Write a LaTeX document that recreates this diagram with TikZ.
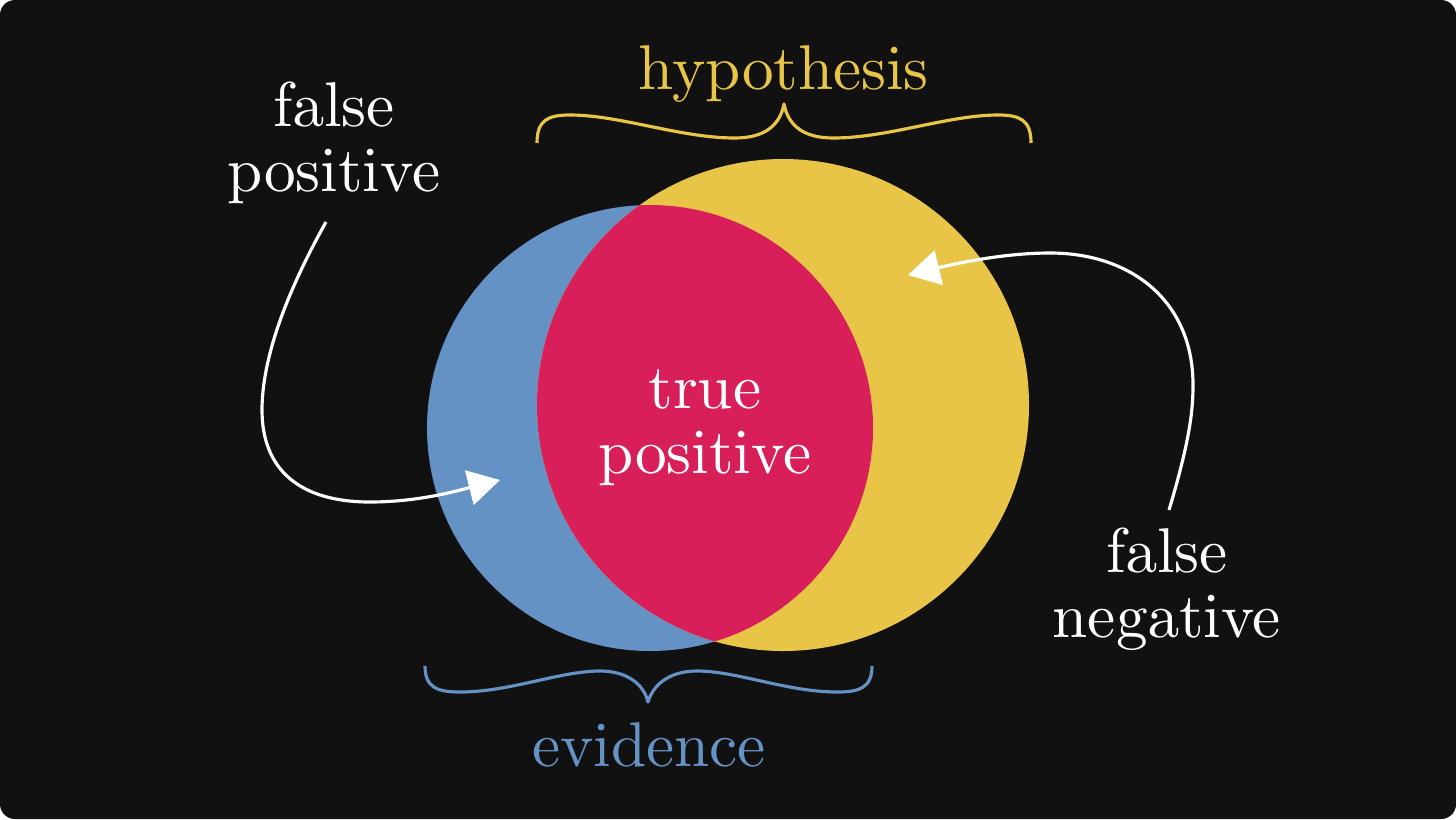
\documentclass[tikz,border=0pt]{standalone}
\usetikzlibrary{arrows.meta}
\definecolor{bgdark}{HTML}{111111}
\definecolor{evblue}{HTML}{6592C5}
\definecolor{hyyellow}{HTML}{E8C547}
\definecolor{tpred}{HTML}{D81F5A}
\font\vennfont=cmr10 at 36pt

\begin{document}
\begin{tikzpicture}[x=0.02cm,y=-0.02cm]
\tikzset{
  venntext/.style={text=white,font=\fontsize{36}{37}\selectfont\vennfont,align=center,inner sep=0pt},
  bracepath/.style={line width=1.8pt,line join=round},
  pointer/.style={draw=white,line width=1.8pt,-{Triangle[length=18pt,width=20pt]}}
}
\fill[white] (0,0) rectangle (1456,819);
\fill[bgdark,rounded corners=8.5pt] (0,0) rectangle (1456,819);
\useasboundingbox (0,0) rectangle (1456,819);
% the two sets and their overlap
\fill[evblue] (650,428) circle[radius=223];
\fill[hyyellow] (783,405) circle[radius=246];
\begin{scope}
  \clip (650,428) circle[radius=223];
  \fill[tpred] (783,405) circle[radius=246];
\end{scope}
% braces
\draw[bracepath,hyyellow] (537,143) .. controls (537,120) and (548,115) .. (570,115)
  .. controls (620,115) and (680,138) .. (735,138) .. controls (765,138) and (780,125) .. (784,104)
  .. controls (788,125) and (803,138) .. (833,138) .. controls (888,138) and (948,115) .. (998,115)
  .. controls (1020,115) and (1031,120) .. (1031,143);
\draw[bracepath,evblue] (425,666) .. controls (425,688) and (438,692) .. (460,692)
  .. controls (510,692) and (560,671) .. (600,671) .. controls (628,671) and (644,685) .. (648,702)
  .. controls (653,685) and (669,671) .. (697,671) .. controls (737,671) and (787,692) .. (837,692)
  .. controls (859,692) and (872,688) .. (872,666);
% texts
\node[venntext,text=hyyellow,anchor=base] (n_hyp) at (784,89) {hypothesis};
\node[venntext,text=evblue,anchor=base] (n_evi) at (649,766) {evidence};
\node[venntext] (n_fp) at (334,143) {false\\positive};
\node[venntext] (n_tp) at (705,428) {true\\positive};
\node[venntext] (n_fn) at (1167,589) {false\\negative};
% arrows
\coordinate (c_fpstart) at (326,222);
\coordinate (c_fpend) at (500,480);
\coordinate (c_fnstart) at (1169,510);
\coordinate (c_fnend) at (908,275);
\draw[pointer] (c_fpstart) .. controls (285,295) and (262,360) .. (262,410)
  .. controls (262,470) and (300,502) .. (370,502) .. controls (420,502) and (460,490) .. (c_fpend);
\draw[pointer] (c_fnstart) .. controls (1190,440) and (1193,410) .. (1193,385)
  .. controls (1193,300) and (1130,253) .. (1050,253) .. controls (1000,253) and (950,265) .. (c_fnend);
\end{tikzpicture}
\end{document}
